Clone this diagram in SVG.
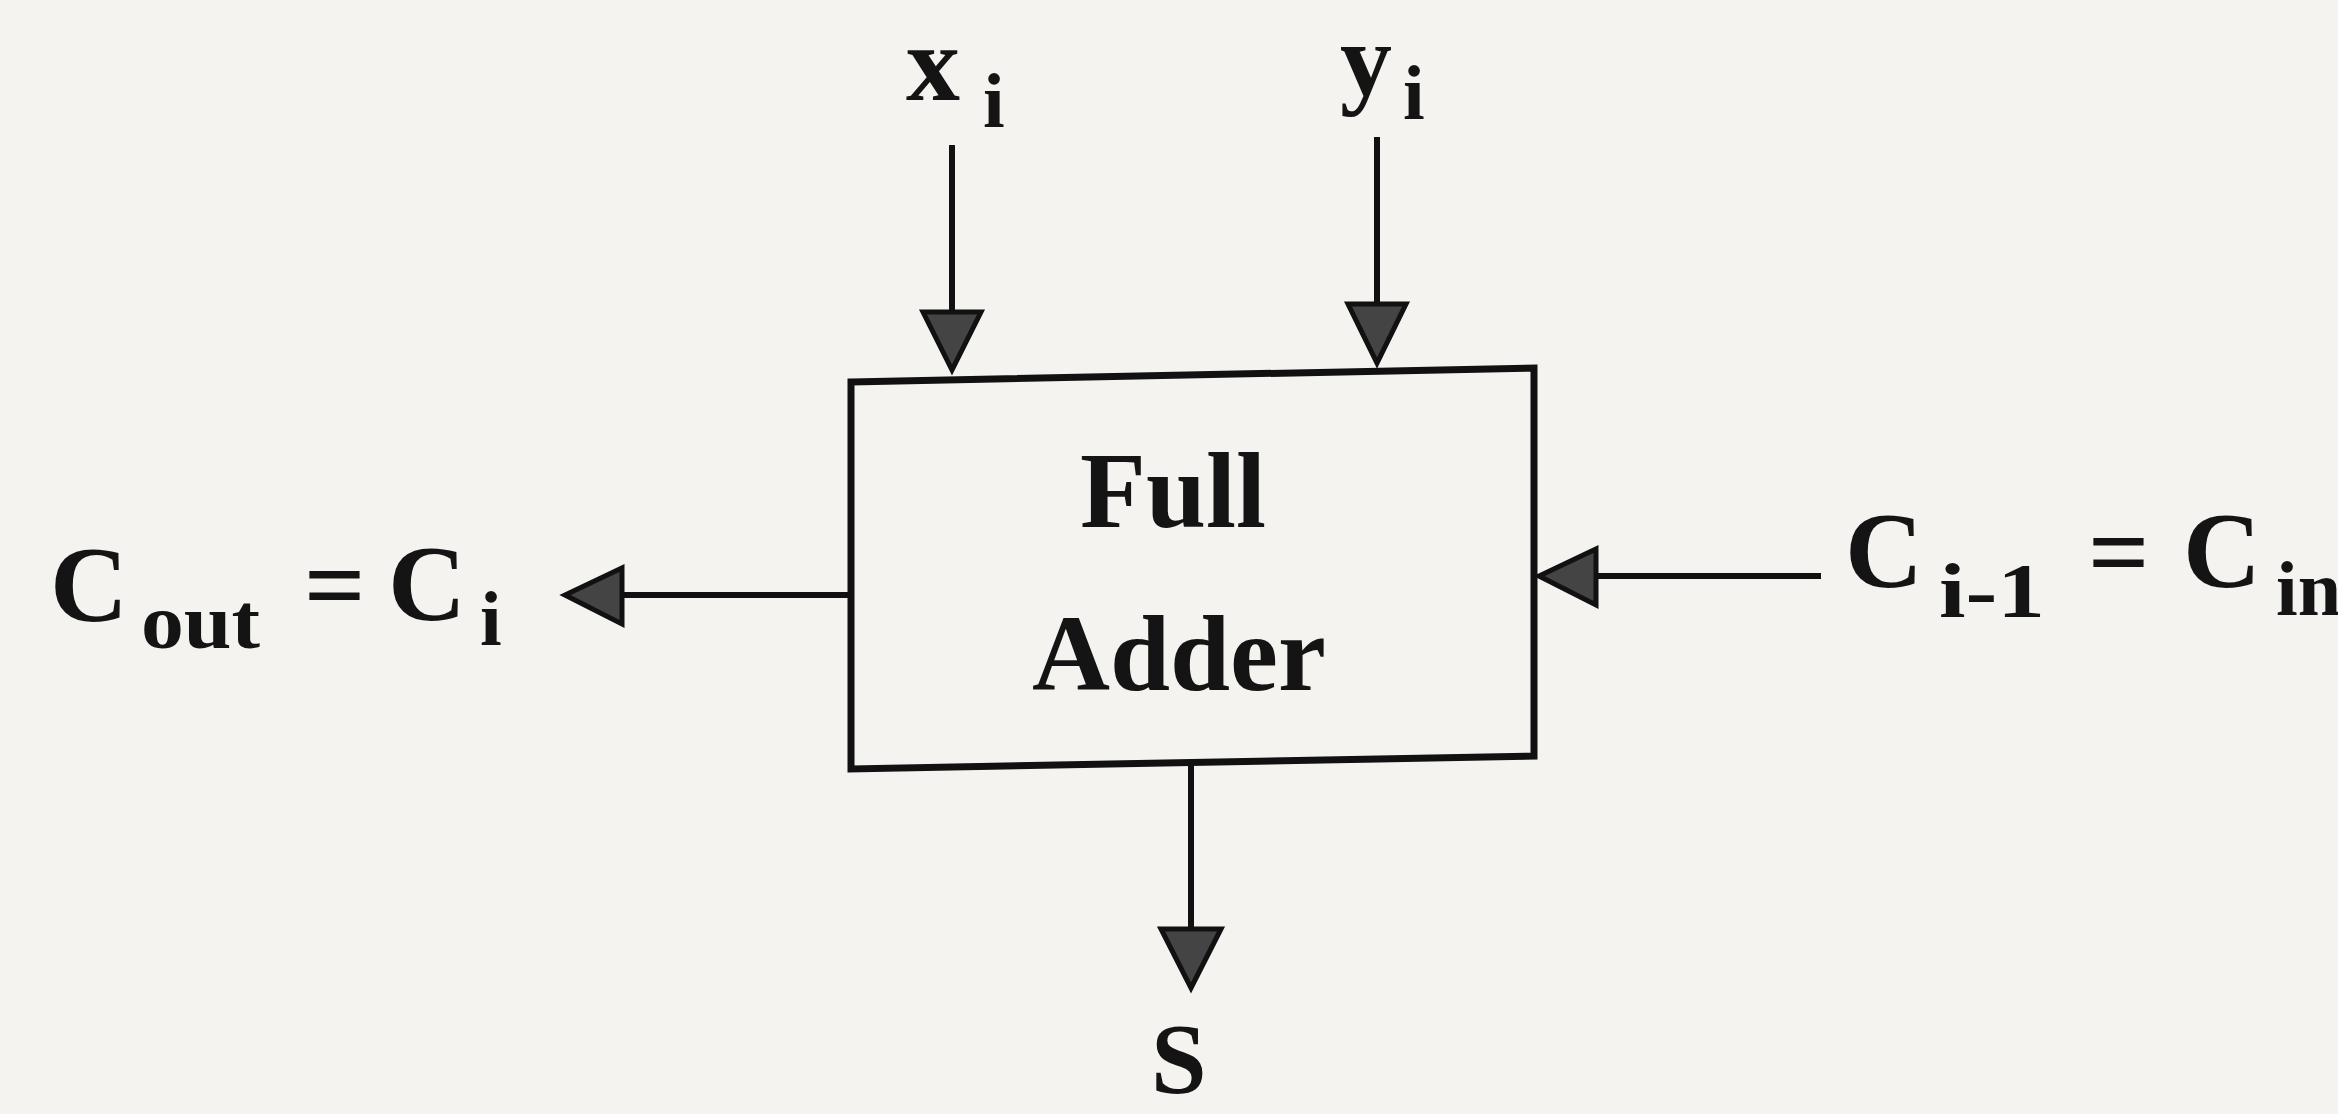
<svg xmlns="http://www.w3.org/2000/svg" width="2338" height="1114" viewBox="0 0 2338 1114">
<style>
.t{font-family:"Liberation Serif","Times New Roman",serif;font-weight:bold;fill:#141414}
.big{font-size:108px}
.sub{font-size:78px}
.box{fill:none;stroke:#111;stroke-width:7;stroke-linejoin:miter}
.wire{stroke:#111;stroke-width:6;fill:none}
.head{fill:#444;stroke:#111;stroke-width:5;stroke-linejoin:miter}
</style>
<rect width="2338" height="1114" fill="#f4f3ef"/>
<g id="connectors">
  <g id="c-xi"><line class="wire" x1="952" y1="145" x2="952" y2="315"/><polygon class="head" points="923,312 981,312 952,370"/></g>
  <g id="c-yi"><line class="wire" x1="1377" y1="137" x2="1377" y2="306"/><polygon class="head" points="1348,304 1406,304 1377,363"/></g>
  <g id="c-cout"><line class="wire" x1="850" y1="595" x2="618" y2="595"/><polygon class="head" points="622,568 622,624 565,595"/></g>
  <g id="c-cin"><line class="wire" x1="1821" y1="576" x2="1592" y2="576"/><polygon class="head" points="1596,549 1596,605 1539,576"/></g>
  <g id="c-s"><line class="wire" x1="1191" y1="763" x2="1191" y2="932"/><polygon class="head" points="1161,929 1221,929 1191,988"/></g>
</g>
<g id="node-fa">
  <polygon class="box" points="851,382 1534,368 1534,756 851,769"/>
  <text class="t big" x="1173" y="527" text-anchor="middle">Full</text>
  <text class="t big" x="1179" y="690" text-anchor="middle">Adder</text>
</g>
<g id="label-xi">
  <text class="t big" x="906" y="100">x</text>
  <text class="t sub" x="983" y="127">i</text>
</g>
<g id="label-yi">
  <text class="t" x="1340" y="95" font-size="104">y</text>
  <text class="t sub" x="1403" y="119">i</text>
</g>
<g id="label-cout">
  <text class="t big" x="50" y="621">C</text>
  <text class="t sub" x="141" y="648" textLength="119" lengthAdjust="spacingAndGlyphs">out</text>
  <text class="t big" x="304" y="621">=</text>
  <text class="t big" x="388" y="620">C</text>
  <text class="t sub" x="480" y="645">i</text>
</g>
<g id="label-cin">
  <text class="t big" x="1845" y="587">C</text>
  <text class="t sub" x="1939" y="617" textLength="106" lengthAdjust="spacingAndGlyphs">i-1</text>
  <text class="t big" x="2088" y="588">=</text>
  <text class="t big" x="2183" y="587">C</text>
  <text class="t sub" x="2276" y="615">in</text>
</g>
<g id="label-s">
  <text class="t" x="1151" y="1092" font-size="100">S</text>
</g>
</svg>
